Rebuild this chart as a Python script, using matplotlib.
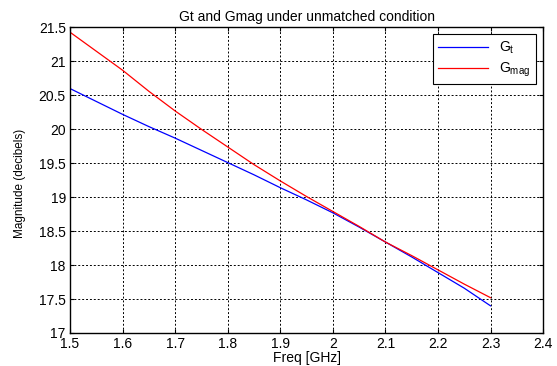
import matplotlib
matplotlib.use("Agg")
import matplotlib.pyplot as plt

plt.rcParams['font.family'] = ['Liberation Sans', 'DejaVu Sans']
plt.rcParams['mathtext.fontset'] = 'custom'
plt.rcParams['mathtext.rm'] = 'Liberation Sans'
plt.rcParams['mathtext.it'] = 'Liberation Sans'

freq = [1.5, 1.55, 1.6, 1.65, 1.7, 1.75, 1.8, 1.85, 1.9, 1.95,
        2.0, 2.05, 2.1, 2.15, 2.2, 2.25, 2.3]
gt = [20.6, 20.41, 20.22, 20.04, 19.87, 19.69, 19.51, 19.33, 19.14, 18.96,
      18.77, 18.56, 18.34, 18.12, 17.89, 17.66, 17.4]
gmag = [21.43, 21.15, 20.87, 20.56, 20.27, 20.0, 19.74, 19.48, 19.24, 19.01,
        18.79, 18.57, 18.34, 18.14, 17.93, 17.72, 17.52]

fig = plt.figure(figsize=(5.57, 3.66), dpi=100)
ax = fig.add_axes([0.1257, 0.0902, 0.8493, 0.8348])

ax.plot(freq, gt, color='#0000ff', lw=0.9, label='G$_t$')
ax.plot(freq, gmag, color='#ff0000', lw=0.9, label='G$_{mag}$')

ax.set_xlim(1.5, 2.4)
ax.set_ylim(17, 21.5)
ax.set_xticks([1.5, 1.6, 1.7, 1.8, 1.9, 2.0, 2.1, 2.2, 2.3, 2.4])
ax.set_xticklabels(['1.5', '1.6', '1.7', '1.8', '1.9', '2', '2.1', '2.2', '2.3', '2.4'])
ax.set_yticks([17, 17.5, 18, 18.5, 19, 19.5, 20, 20.5, 21, 21.5])
ax.set_yticklabels(['17', '17.5', '18', '18.5', '19', '19.5', '20', '20.5', '21', '21.5'])
ax.grid(True, color='black', linestyle=(0, (2, 2)), lw=0.7)
ax.tick_params(direction='in', top=True, right=True, labelsize=10, length=3, pad=3)
for s in ax.spines.values():
    s.set_linewidth(1.0)

ax.set_title('Gt and Gmag under unmatched condition', fontsize=10, pad=5)
ax.set_xlabel('Freq [GHz]', fontsize=10, labelpad=0)
ax.set_ylabel('Magnitude (decibels)', fontsize=8.5)
ax.yaxis.set_label_coords(-0.092, 0.49)

leg = ax.legend(loc='upper right', fancybox=False, framealpha=1, edgecolor='black',
                fontsize=10, handlelength=3.6, borderaxespad=0.5, labelspacing=0.3)
leg.get_frame().set_linewidth(0.8)

fig.savefig('out.png', dpi=100)
